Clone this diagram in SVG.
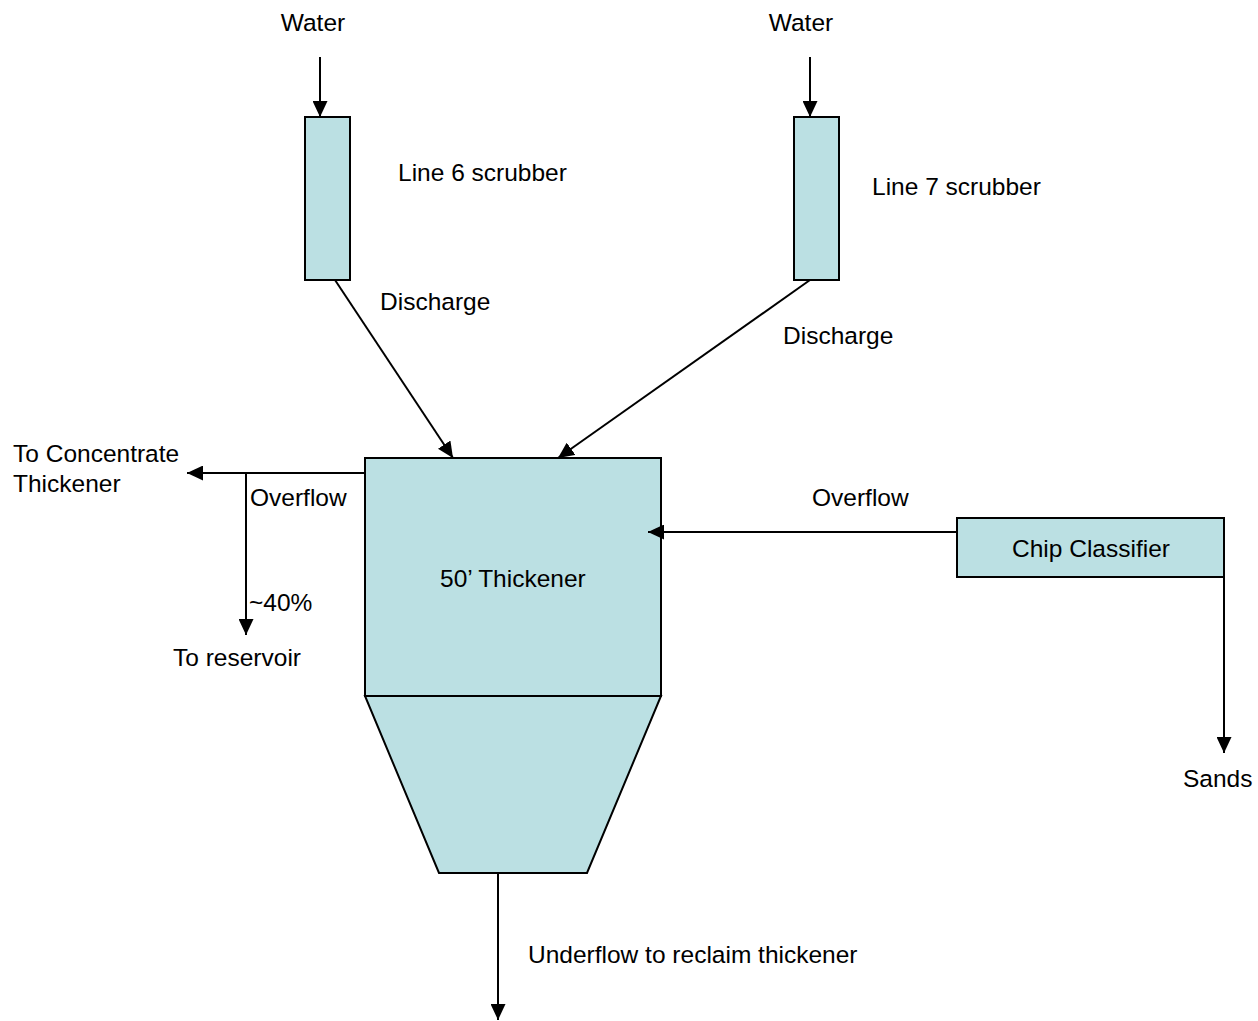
<svg xmlns="http://www.w3.org/2000/svg" width="1258" height="1021" viewBox="0 0 1258 1021">
<style>
.box{fill:#bbe0e3;stroke:#000;stroke-width:2}
.ln{fill:none;stroke:#000;stroke-width:2}
text{font-family:"Liberation Sans",Arial,sans-serif;font-size:24.5px;fill:#000}
</style>
<defs>
<marker id="ah" markerUnits="userSpaceOnUse" markerWidth="17" markerHeight="15" refX="16" refY="7.5" orient="auto">
<path d="M0,0 L16,7.5 L0,15 z" fill="#000"/>
</marker>
</defs>
<rect width="1258" height="1021" fill="#fff"/>
<g id="scrubber6">
<rect class="box" x="305" y="117" width="45" height="163"/>
<text x="398" y="181">Line 6 scrubber</text>
</g>
<g id="scrubber7">
<rect class="box" x="794" y="117" width="45" height="163"/>
<text x="872" y="195">Line 7 scrubber</text>
</g>
<g id="thickener">
<rect class="box" x="365" y="458" width="296" height="238"/>
<polygon class="box" points="365,696 661,696 587,873 439,873"/>
<text x="440" y="587">50’ Thickener</text>
</g>
<g id="classifier">
<rect class="box" x="957" y="518" width="267" height="59"/>
<text x="1091" y="557" text-anchor="middle">Chip Classifier</text>
</g>
<g id="connectors">
<line class="ln" x1="320" y1="57" x2="320" y2="117" marker-end="url(#ah)"/>
<line class="ln" x1="810" y1="57" x2="810" y2="117" marker-end="url(#ah)"/>
<line class="ln" x1="335" y1="280" x2="453" y2="458" marker-end="url(#ah)"/>
<line class="ln" x1="810" y1="280" x2="558" y2="458" marker-end="url(#ah)"/>
<line class="ln" x1="365" y1="473" x2="187" y2="473" marker-end="url(#ah)"/>
<line class="ln" x1="246" y1="473" x2="246" y2="635" marker-end="url(#ah)"/>
<line class="ln" x1="957" y1="532" x2="648" y2="532" marker-end="url(#ah)"/>
<line class="ln" x1="1224" y1="577" x2="1224" y2="753" marker-end="url(#ah)"/>
<line class="ln" x1="498" y1="873" x2="498" y2="1020" marker-end="url(#ah)"/>
</g>
<g id="labels">
<text x="313" y="31" text-anchor="middle">Water</text>
<text x="801" y="31" text-anchor="middle">Water</text>
<text x="380" y="310">Discharge</text>
<text x="783" y="344">Discharge</text>
<text x="13" y="462">To Concentrate</text>
<text x="13" y="492">Thickener</text>
<text x="250" y="506">Overflow</text>
<text x="249" y="611">~40%</text>
<text x="173" y="666">To reservoir</text>
<text x="812" y="506">Overflow</text>
<text x="1183" y="787">Sands</text>
<text x="528" y="963">Underflow to reclaim thickener</text>
</g>
</svg>
